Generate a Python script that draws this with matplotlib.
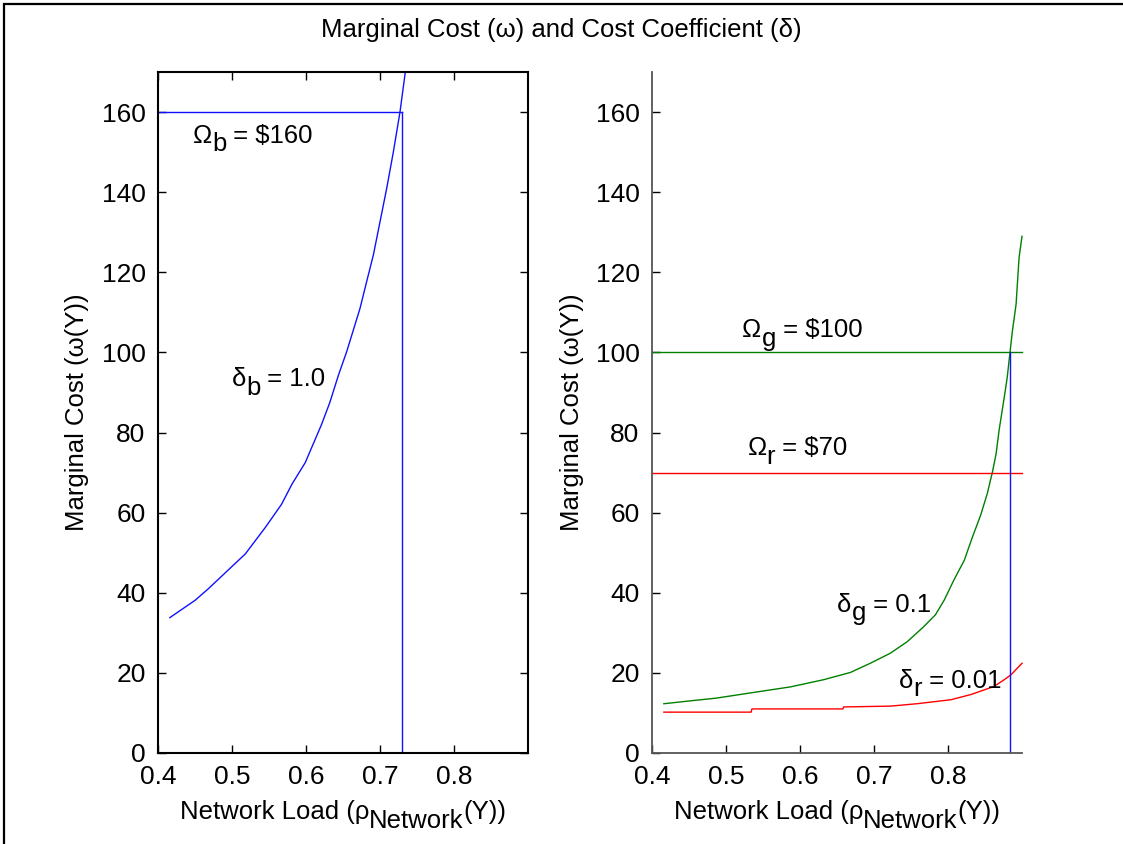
import matplotlib
matplotlib.use("Agg")
import matplotlib.pyplot as plt
from matplotlib.patches import Rectangle

plt.rcParams['font.family'] = ['Liberation Sans', 'DejaVu Sans']

# ---------------- data ----------------
# Left panel: delta_b = 1.0 curve
load_b = [0.416, 0.450, 0.468, 0.518, 0.545, 0.567, 0.581, 0.599, 0.621, 0.632,
          0.644, 0.655, 0.673, 0.682, 0.691, 0.700, 0.709, 0.718, 0.727, 0.734]
cost_b = [33.8, 38.1, 41.0, 49.7, 56.3, 62.1, 67.1, 72.5, 82.0, 87.4,
          94.4, 100.2, 111.0, 117.7, 124.3, 132.6, 140.9, 150.0, 160.0, 169.7]

# Right panel: delta_g = 0.1 curve
load_g = [0.416, 0.456, 0.487, 0.533, 0.587, 0.632, 0.668, 0.695, 0.722, 0.745,
          0.767, 0.783, 0.795, 0.808, 0.822, 0.833, 0.844, 0.853, 0.860, 0.865,
          0.869, 0.876, 0.880, 0.884, 0.887, 0.892, 0.896, 0.900]
cost_g = [12.3, 13.1, 13.7, 15.0, 16.5, 18.3, 20.1, 22.4, 24.9, 27.8,
          31.5, 34.5, 38.2, 43.2, 48.1, 53.9, 59.3, 64.7, 70.1, 74.7,
          80.5, 88.8, 93.7, 100.4, 105.3, 112.0, 123.6, 129.0]

# Right panel: delta_r = 0.01 curve
load_r = [0.416, 0.534, 0.535, 0.658, 0.659, 0.722, 0.758, 0.804, 0.831, 0.862,
          0.876, 0.885, 0.900]
cost_r = [10.2, 10.2, 11.0, 11.0, 11.5, 11.7, 12.3, 13.3, 14.6, 16.6,
          18.3, 19.5, 22.4]

omega_b, rho_b = 160, 0.73
omega_g, omega_r, rho_g = 100, 70, 0.884

x_ticks = [0.4, 0.5, 0.6, 0.7, 0.8]
y_ticks = [0, 20, 40, 60, 80, 100, 120, 140, 160]

title = "Marginal Cost (\u03c9) and Cost Coefficient (\u03b4)"
ylab = "Marginal Cost (\u03c9(Y))"

FS = 19      # tick labels
LFS = 18.5   # axis labels / annotations

fig = plt.figure(figsize=(11.23, 8.44), dpi=100)

# figure border (top & left visible)
fig.patches.append(Rectangle((4 / 1123, -0.05), 1.2, 1.05 - 4 / 844,
                             transform=fig.transFigure, fill=False,
                             edgecolor='black', linewidth=1.6, clip_on=False))

fig.text(0.5, 1 - 30 / 844, title, ha='center', va='center', fontsize=18.5)

axL = fig.add_axes([158 / 1123, 1 - 753 / 844, 370 / 1123, 681 / 844])
axR = fig.add_axes([652 / 1123, 1 - 753 / 844, 370 / 1123, 681 / 844])

for ax in (axL, axR):
    ax.set_xlim(0.4, 0.9)
    ax.set_ylim(0, 170)
    ax.set_xticks(x_ticks)
    ax.set_xticklabels([f"{v:g}" for v in x_ticks])
    ax.set_yticks(y_ticks)
    ax.tick_params(direction='in', length=6, width=1, labelsize=FS, pad=9)

# left axes box with ticks on all sides
axL.tick_params(top=True, right=True)
for s in axL.spines.values():
    s.set_linewidth(1.5)

# right axes without box
axR.spines['top'].set_visible(False)
axR.spines['right'].set_visible(False)
for s in ('left', 'bottom'):
    axR.spines[s].set_color('#555555')
    axR.spines[s].set_linewidth(1.3)

# ---- left panel lines ----
axL.plot(load_b, cost_b, color='#1010ff', lw=1.0, clip_on=False)
axL.plot([0.4, rho_b], [omega_b, omega_b], color='#1010ff', lw=1.0)
axL.plot([rho_b, rho_b], [0, omega_b], color='#1010ff', lw=1.0)

# ---- right panel lines ----
axR.plot(load_g, cost_g, color='#008000', lw=1.0, clip_on=False)
axR.plot(load_r, cost_r, color='#ff0000', lw=1.0, clip_on=False)
axR.plot([0.4, 0.9], [omega_g, omega_g], color='#008000', lw=1.0, clip_on=False)
axR.plot([0.4, 0.9], [omega_r, omega_r], color='#ff0000', lw=1.0, clip_on=False)
axR.plot([rho_g, rho_g], [0, omega_g], color='#1010ff', lw=1.0)


def sub_text(ax, x, y, parts, fs=LFS, transform=None, drop=6.0):
    """Draw text pieces; parts is a list of (string, is_subscript)."""
    tr = ax.transData if transform is None else transform
    prev = None
    prev_sub = False
    arts = []
    for s, is_sub in parts:
        if prev is None:
            a = ax.text(x, y, s, fontsize=fs, transform=tr, va='baseline', ha='left')
        else:
            dy = 0
            if is_sub and not prev_sub:
                dy = -drop
            elif prev_sub and not is_sub:
                dy = drop
            a = ax.annotate(s, xycoords=prev, xy=(1, 0), xytext=(0, dy),
                            textcoords='offset points', va='bottom', ha='left',
                            fontsize=fs)
        arts.append(a)
        prev = a
        prev_sub = is_sub
    return arts


# annotations (baseline positions)
sub_text(axL, 0.447, 152.3, [("\u03a9", False), ("b", True), (" = $160", False)])
sub_text(axL, 0.4996, 91.5, [("\u03b4", False), ("b", True), (" = 1.0", False)])
sub_text(axR, 0.522, 103.8, [("\u03a9", False), ("g", True), (" = $100", False)])
sub_text(axR, 0.529, 74.3, [("\u03a9", False), ("r", True), (" = $70", False)])
sub_text(axR, 0.650, 35.3, [("\u03b4", False), ("g", True), (" = 0.1", False)])
sub_text(axR, 0.7335, 16.3, [("\u03b4", False), ("r", True), (" = 0.01", False)])

# y labels
for ax, xp in ((axL, 77), (axR, 572)):
    fig.text(xp / 1123, 1 - 412 / 844, ylab, rotation=90, ha='center', va='center',
             fontsize=LFS)

# x labels built from pieces, then centred
xl_parts = [("Network Load (\u03c1", False), ("Network", True), ("(Y))", False)]
xl_arts = []
for ax in (axL, axR):
    arts = sub_text(ax, 0.0, -0.097, xl_parts, transform=ax.transAxes, drop=6.5)
    xl_arts.append((ax, arts))

fig.canvas.draw()
r = fig.canvas.get_renderer()
for ax, arts in xl_arts:
    x0 = arts[0].get_window_extent(r).x0
    x1 = arts[-1].get_window_extent(r).x1
    w = x1 - x0
    axb = ax.get_window_extent(r)
    target_left = axb.x0 + axb.width / 2 - w / 2
    arts[0].set_x((target_left - axb.x0) / axb.width)

fig.savefig("out.png", dpi=100)
